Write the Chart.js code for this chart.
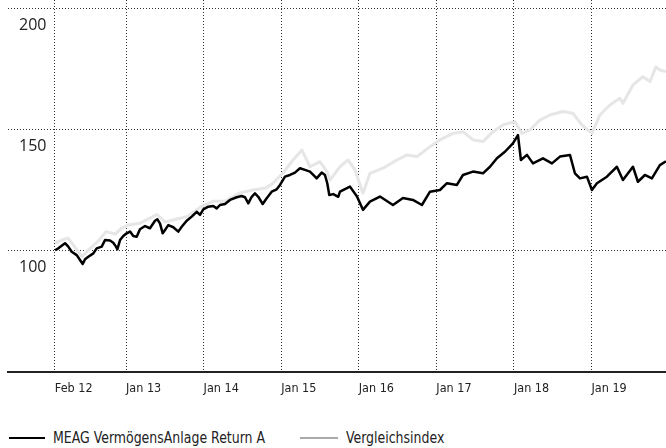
<!DOCTYPE html>
<html>
<head>
<meta charset="utf-8">
<script src="https://cdn.jsdelivr.net/npm/chart.js@4/dist/chart.umd.min.js"></script>
<style>
  body { margin: 0; background: #fff; }
  #wrap { position: relative; width: 666px; height: 448px; }
  #legend { position: absolute; left: 9px; top: 428px; display: flex; align-items: center;
    font-family: 'DejaVu Sans Condensed', 'DejaVu Sans', sans-serif; font-size: 16px; color: #222; }
  .item { display: flex; align-items: center; }
  .swatch { height: 2px; margin-right: 8px; flex: none; }
  .name { display: inline-block; transform: scaleX(0.87); transform-origin: left center; white-space: nowrap; }
</style>
</head>
<body>
<div id="wrap">
  <canvas id="chart" width="666" height="410"></canvas>
  <div id="legend"></div>
</div>
<script>
// x positions are decimal years
const fundDates = [2012.085, 2012.128, 2012.214, 2012.256, 2012.300, 2012.365, 2012.407, 2012.442, 2012.472, 2012.514,
  2012.579, 2012.622, 2012.687, 2012.729, 2012.794, 2012.836, 2012.871, 2012.888, 2012.923, 2012.965,
  2013.009, 2013.052, 2013.094, 2013.138, 2013.180, 2013.245, 2013.309, 2013.374, 2013.403, 2013.438,
  2013.473, 2013.503, 2013.545, 2013.610, 2013.674, 2013.718, 2013.782, 2013.847, 2013.911, 2013.954,
  2013.996, 2014.061, 2014.125, 2014.169, 2014.211, 2014.276, 2014.340, 2014.427, 2014.491, 2014.534,
  2014.576, 2014.620, 2014.662, 2014.705, 2014.762, 2014.813, 2014.878, 2014.942, 2014.985, 2015.049,
  2015.113, 2015.178, 2015.242, 2015.307, 2015.371, 2015.414, 2015.457, 2015.522, 2015.564, 2015.594,
  2015.620, 2015.671, 2015.736, 2015.758, 2015.887, 2015.977, 2016.054, 2016.144, 2016.273, 2016.441,
  2016.570, 2016.698, 2016.814, 2016.918, 2017.046, 2017.137, 2017.265, 2017.343, 2017.472, 2017.601,
  2017.691, 2017.781, 2017.884, 2017.987, 2018.052, 2018.090, 2018.168, 2018.245, 2018.374, 2018.490,
  2018.593, 2018.722, 2018.786, 2018.851, 2018.941, 2019.005, 2019.070, 2019.198, 2019.327, 2019.405,
  2019.534, 2019.598, 2019.688, 2019.778, 2019.881, 2019.959];
const fundValues = [100.3, 101.1, 103.2, 101.8, 99.7, 98.3, 96.3, 94.6, 96.6, 97.6,
  99.0, 101.1, 101.8, 104.5, 104.3, 103.4, 101.8, 100.7, 104.5, 106.2,
  107.3, 108.0, 106.2, 105.9, 109.0, 110.3, 109.4, 112.5, 113.1, 111.4,
  107.3, 108.7, 110.7, 109.8, 108.0, 110.0, 112.5, 114.2, 116.2, 114.9,
  117.2, 118.3, 118.6, 117.6, 119.0, 119.4, 121.1, 122.2, 122.7, 122.2,
  119.7, 122.4, 123.8, 122.4, 119.4, 121.8, 124.5, 125.5, 127.3, 130.7,
  131.4, 132.4, 134.2, 133.5, 132.8, 131.4, 130.0, 132.4, 131.4, 128.0,
  123.1, 123.5, 122.4, 124.5, 126.6, 122.5, 117.0, 120.4, 122.5, 119.0,
  121.9, 121.1, 119.0, 124.5, 125.2, 128.0, 127.3, 131.4, 132.8, 132.1,
  134.8, 138.3, 141.0, 144.5, 147.9, 137.6, 139.7, 136.2, 138.3, 136.2,
  139.0, 139.7, 132.1, 130.0, 130.7, 125.2, 128.0, 130.7, 134.8, 129.3,
  134.8, 128.6, 131.4, 130.0, 135.5, 137.0];

const indexDates = [2012.085, 2012.175, 2012.253, 2012.343, 2012.433, 2012.536, 2012.639, 2012.742, 2012.858, 2012.948,
  2013.026, 2013.180, 2013.399, 2013.503, 2013.631, 2013.786, 2013.954, 2014.121, 2014.276, 2014.469,
  2014.637, 2014.804, 2014.894, 2015.023, 2015.152, 2015.268, 2015.371, 2015.500, 2015.590, 2015.629,
  2015.758, 2015.861, 2015.951, 2016.054, 2016.144, 2016.312, 2016.492, 2016.621, 2016.750, 2016.918,
  2017.046, 2017.214, 2017.343, 2017.472, 2017.601, 2017.729, 2017.858, 2018.013, 2018.103, 2018.206,
  2018.335, 2018.464, 2018.631, 2018.760, 2018.876, 2019.005, 2019.108, 2019.237, 2019.366, 2019.405,
  2019.534, 2019.662, 2019.753, 2019.830, 2019.881, 2019.959];
const indexValues = [103.3, 104.5, 105.4, 101.5, 97.7, 101.0, 104.0, 108.0, 107.0, 109.5,
  110.7, 111.5, 115.0, 112.0, 113.0, 114.2, 118.0, 120.5, 120.5, 124.0,
  125.2, 126.0, 128.0, 132.2, 137.6, 141.7, 134.8, 136.9, 132.8, 129.3,
  134.8, 137.6, 133.5, 123.9, 132.1, 134.2, 137.6, 139.7, 139.0, 143.1,
  145.9, 148.6, 149.3, 145.9, 145.2, 149.3, 152.1, 153.4, 148.6, 150.0,
  154.1, 156.2, 157.6, 156.9, 152.1, 148.6, 156.2, 160.3, 163.1, 161.0,
  168.6, 172.0, 170.0, 176.0, 174.8, 174.1];

const seriesNames = ['MEAG VermögensAnlage Return A', 'Vergleichsindex'];
const xTickValues = [2012.083, 2013, 2014, 2015, 2016, 2017, 2018, 2019];
const xTickLabels = ['Feb 12', 'Jan 13', 'Jan 14', 'Jan 15', 'Jan 16', 'Jan 17', 'Jan 18', 'Jan 19'];
const yTickValues = [100, 150, 200];

Chart.defaults.font.family = "'DejaVu Sans Condensed', 'DejaVu Sans', sans-serif";
Chart.defaults.color = '#222';

const toPoints = (xs, ys) => xs.map((x, i) => ({ x: x, y: ys[i] }));
const noPadding = s => { s.paddingTop = 0; s.paddingBottom = 0; s.paddingLeft = 0; s.paddingRight = 0; };

new Chart(document.getElementById('chart'), {
  type: 'line',
  data: {
    datasets: [
      { label: seriesNames[0], data: toPoints(fundDates, fundValues), borderColor: '#000', borderWidth: 2.5,
        pointRadius: 0, tension: 0, borderJoinStyle: 'round' },
      { label: seriesNames[1], data: toPoints(indexDates, indexValues), borderColor: '#e6e6e6', borderWidth: 3,
        pointRadius: 0, tension: 0, borderJoinStyle: 'round' }
    ]
  },
  options: {
    responsive: false,
    animation: false,
    events: [],
    layout: { padding: 0 },
    plugins: { legend: { display: false }, tooltip: { enabled: false } },
    scales: {
      x: {
        type: 'linear', min: 2011.479, max: 2019.96,
        afterBuildTicks: s => { s.ticks = xTickValues.map(v => ({ value: v })); },
        afterFit: s => { s.height = 38; noPadding(s); },
        ticks: { align: 'start', padding: 9, maxRotation: 0, autoSkip: false, font: { size: 12.5 },
          callback: (v, i) => xTickLabels[i] },
        grid: { color: '#333', drawTicks: false },
        border: { display: true, color: '#222', width: 2, dash: [1, 2] }
      },
      y: {
        min: 50, max: 203.7,
        afterBuildTicks: s => { s.ticks = yTickValues.map(v => ({ value: v })); },
        afterFit: s => { s.width = 8; noPadding(s); },
        ticks: { mirror: true, padding: 11, labelOffset: 16, font: { family: "'Open Sans', sans-serif", size: 16 } },
        grid: { color: '#333', drawTicks: false },
        border: { display: false, dash: [1, 2] }
      }
    }
  }
});

// legend below the chart
const swatches = [{ color: '#000', width: 36, gap: 0 }, { color: '#aaa', width: 38, gap: 35 }];
const legend = document.getElementById('legend');
seriesNames.forEach((name, i) => {
  const item = document.createElement('div');
  item.className = 'item';
  item.style.marginLeft = swatches[i].gap + 'px';
  item.innerHTML = '<span class="swatch" style="width:' + swatches[i].width + 'px;background:' + swatches[i].color + '"></span>' +
    '<span class="name">' + name + '</span>';
  legend.appendChild(item);
});
// scaled text keeps its layout width, so shrink the box to the drawn width
legend.querySelectorAll('.name').forEach(el => { el.style.marginRight = (-el.offsetWidth * 0.13) + 'px'; });
</script>
</body>
</html>
